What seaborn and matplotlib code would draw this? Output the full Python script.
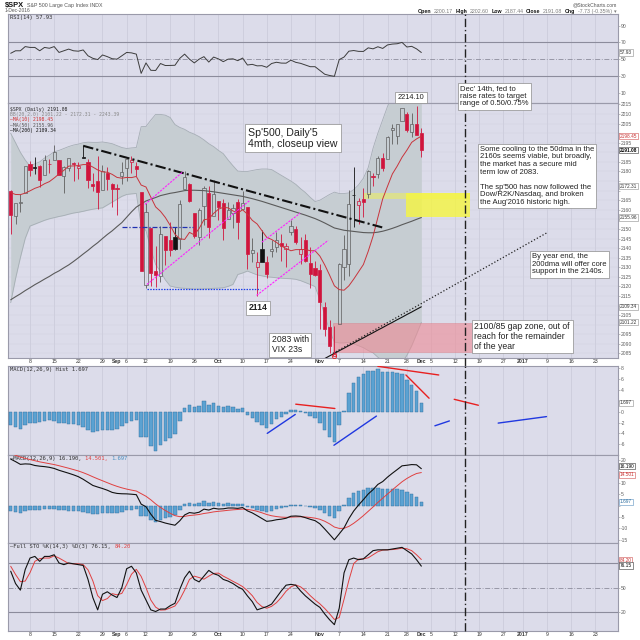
import numpy as np
import matplotlib
matplotlib.use("Agg")
import matplotlib.pyplot as plt
import matplotlib.transforms as mtrans
from matplotlib.patches import Rectangle
import seaborn as sns

sns.set_style("white")
plt.rcParams['font.family'] = ['Liberation Sans', 'DejaVu Sans']
plt.rcParams['axes.unicode_minus'] = False
MONO = ['DejaVu Sans Mono', 'DejaVu Sans']

# ---------------------------------------------------------------- data
# daily candles, 2 Aug 2016 .. 1 Dec 2016 (trading-day index 0..85)
opens = [2169.94, 2156.81, 2163.51, 2168.79, 2183.76, 2182.24, 2182.81, 2177.97, 2183.74, 2186.08,
         2186.24, 2177.84, 2181.90, 2184.24, 2181.58, 2187.81, 2185.09, 2173.29, 2175.10, 2170.19,
         2179.45, 2173.56, 2171.33, 2177.49, 2181.61, 2185.17, 2182.76, 2169.08, 2120.86, 2150.47,
         2127.86, 2125.36, 2146.48, 2143.99, 2145.94, 2144.58, 2170.94, 2173.29, 2158.54, 2146.04,
         2161.85, 2168.90, 2156.51, 2164.33, 2163.37, 2155.15, 2158.22, 2164.19, 2160.39, 2161.35,
         2137.67, 2130.26, 2139.68, 2132.95, 2138.31, 2140.81, 2142.51, 2139.43, 2148.50, 2149.72,
         2136.97, 2144.06, 2132.23, 2129.78, 2128.68, 2109.43, 2098.80, 2083.79, 2100.59, 2129.92,
         2131.56, 2167.49, 2162.71, 2165.64, 2168.29, 2177.53, 2178.61, 2186.85, 2186.43, 2201.56,
         2198.55, 2206.27, 2210.21, 2200.76, 2204.97, 2200.17]
highs = [2170.20, 2163.79, 2168.19, 2182.87, 2185.44, 2187.66, 2183.41, 2188.45, 2186.28, 2193.81,
         2186.24, 2183.08, 2187.03, 2185.00, 2185.15, 2193.42, 2186.66, 2179.00, 2187.94, 2183.48,
         2182.27, 2173.79, 2173.56, 2184.87, 2186.57, 2187.87, 2184.94, 2169.08, 2163.30, 2150.47,
         2141.33, 2151.31, 2146.48, 2153.61, 2150.80, 2165.11, 2179.99, 2173.75, 2158.54, 2161.13,
         2172.40, 2172.67, 2175.30, 2164.41, 2165.46, 2163.95, 2162.93, 2165.86, 2169.60, 2161.56,
         2145.36, 2138.19, 2149.19, 2135.61, 2144.38, 2148.44, 2147.18, 2142.63, 2154.79, 2151.44,
         2145.73, 2147.13, 2140.72, 2133.25, 2131.45, 2111.76, 2102.56, 2099.07, 2132.00, 2146.87,
         2170.10, 2182.30, 2165.92, 2171.36, 2180.84, 2179.22, 2188.06, 2189.89, 2198.70, 2204.80,
         2204.72, 2213.35, 2211.14, 2210.46, 2214.10, 2202.60]
lows = [2147.58, 2152.70, 2159.07, 2168.79, 2177.85, 2178.61, 2172.00, 2177.97, 2179.42, 2186.08,
        2178.14, 2168.50, 2180.46, 2175.13, 2175.96, 2186.80, 2171.25, 2169.74, 2160.39, 2170.19,
        2170.41, 2161.35, 2157.09, 2173.59, 2175.10, 2179.07, 2177.49, 2127.81, 2119.12, 2120.27,
        2119.90, 2122.36, 2131.20, 2135.91, 2139.17, 2139.57, 2170.94, 2163.97, 2145.04, 2141.55,
        2151.79, 2145.20, 2156.51, 2154.77, 2144.01, 2155.15, 2150.28, 2144.85, 2160.39, 2128.84,
        2132.77, 2114.72, 2132.98, 2124.43, 2135.49, 2138.15, 2133.44, 2130.09, 2146.91, 2141.93,
        2131.59, 2132.52, 2119.36, 2125.53, 2097.85, 2094.00, 2085.23, 2083.79, 2100.59, 2123.56,
        2125.35, 2151.17, 2152.49, 2156.08, 2166.38, 2172.20, 2176.65, 2180.38, 2186.43, 2194.51,
        2194.51, 2206.27, 2200.36, 2198.15, 2198.81, 2187.44]
closes = [2157.03, 2163.79, 2164.25, 2182.87, 2180.89, 2181.74, 2175.49, 2185.79, 2184.05, 2190.15,
          2178.15, 2182.22, 2187.02, 2183.87, 2182.64, 2186.90, 2175.44, 2172.47, 2169.04, 2180.38,
          2176.12, 2170.95, 2170.86, 2179.98, 2186.48, 2186.16, 2181.30, 2127.81, 2159.04, 2127.02,
          2125.77, 2147.26, 2139.16, 2139.12, 2139.76, 2163.12, 2177.18, 2164.69, 2146.10, 2159.93,
          2171.37, 2151.13, 2168.27, 2161.20, 2150.49, 2159.73, 2160.77, 2153.74, 2163.66, 2136.73,
          2139.18, 2132.55, 2132.98, 2126.50, 2139.60, 2144.29, 2141.34, 2141.16, 2151.33, 2143.16,
          2139.43, 2133.04, 2126.41, 2126.15, 2111.72, 2097.94, 2088.66, 2085.18, 2131.52, 2139.56,
          2163.26, 2167.48, 2164.45, 2164.20, 2180.39, 2176.94, 2187.12, 2181.90, 2198.18, 2202.94,
          2204.72, 2213.35, 2201.72, 2204.66, 2198.81, 2191.08]
prior_close = 2170.84

ma10 = [2168.9, 2168.0, 2167.9, 2168.7, 2169.9, 2171.2, 2172.1, 2173.6, 2174.7, 2176.6,
        2178.7, 2180.6, 2182.8, 2182.9, 2183.1, 2183.6, 2183.6, 2182.3, 2180.8, 2179.8,
        2179.6, 2178.5, 2176.9, 2176.5, 2176.9, 2176.8, 2177.4, 2172.9, 2171.9, 2166.6,
        2161.5, 2159.2, 2156.0, 2151.9, 2147.2, 2144.9, 2144.5, 2148.2, 2146.9, 2150.2,
        2154.8, 2155.2, 2158.1, 2160.3, 2161.3, 2161.0, 2159.4, 2158.3, 2160.0, 2157.7,
        2154.5, 2152.6, 2149.1, 2145.6, 2144.5, 2143.0, 2141.1, 2139.8, 2138.6, 2139.2,
        2139.2, 2139.3, 2138.6, 2138.6, 2135.8, 2131.2, 2125.9, 2120.3, 2118.3, 2118.0,
        2120.3, 2123.8, 2127.6, 2131.4, 2138.3, 2146.2, 2156.0, 2165.7, 2172.3, 2178.7,
        2182.8, 2187.4, 2191.1, 2195.2, 2197.0, 2198.45]
ma50 = [2113.0, 2114.6, 2116.1, 2117.8, 2119.3, 2120.9, 2122.3, 2123.8, 2125.2, 2126.8,
        2128.1, 2129.7, 2131.2, 2133.0, 2134.9, 2136.9, 2138.8, 2140.9, 2142.8, 2145.0,
        2147.1, 2149.0, 2151.2, 2153.3, 2156.1, 2158.9, 2161.4, 2163.0, 2164.6, 2165.5,
        2166.4, 2167.4, 2168.0, 2168.6, 2169.0, 2169.5, 2170.0, 2170.2, 2170.2, 2170.1,
        2170.0, 2169.7, 2169.4, 2169.0, 2168.6, 2168.2, 2167.8, 2167.4, 2167.0, 2166.4,
        2165.8, 2165.1, 2164.4, 2163.6, 2162.8, 2162.0, 2161.2, 2160.4, 2159.6, 2158.8,
        2158.0, 2157.2, 2156.3, 2155.4, 2154.3, 2153.1, 2151.8, 2150.5, 2149.9, 2149.3,
        2149.0, 2148.7, 2148.4, 2148.1, 2148.0, 2148.0, 2148.3, 2148.8, 2149.5, 2150.3,
        2151.2, 2152.2, 2153.1, 2154.0, 2155.0, 2155.96]
ma200_first_day = 65
ma200 = [2082.3, 2083.7, 2085.0, 2086.4, 2087.7, 2089.1, 2090.4, 2091.8, 2093.1, 2094.5, 2095.8,
         2097.2, 2098.5, 2099.9, 2101.2, 2102.6, 2103.9, 2105.3, 2106.6, 2108.0, 2109.34]
bb_upper = [2199.9, 2195.0, 2190.0, 2186.0, 2182.7, 2184.0, 2185.0, 2187.0, 2188.5, 2190.3,
            2191.0, 2192.0, 2193.0, 2193.8, 2194.3, 2195.0, 2195.3, 2195.2, 2195.2, 2195.4,
            2195.0, 2194.5, 2193.5, 2192.5, 2192.0, 2192.3, 2192.5, 2203.4, 2203.5, 2206.8,
            2209.8, 2209.8, 2209.4, 2208.2, 2204.5, 2203.0, 2202.0, 2200.5, 2199.5, 2198.2,
            2196.5, 2194.5, 2193.0, 2191.0, 2189.3, 2186.0, 2183.0, 2180.2, 2180.0, 2180.0,
            2180.5, 2181.0, 2181.3, 2181.3, 2181.0, 2179.5, 2178.0, 2176.5, 2175.0, 2173.3,
            2171.0, 2169.0, 2166.5, 2164.3, 2165.0, 2166.5, 2168.0, 2169.2, 2168.5, 2168.5,
            2168.8, 2170.5, 2173.0, 2176.5, 2182.0, 2192.1, 2200.0, 2207.0, 2214.0, 2220.0,
            2225.0, 2232.0, 2236.0, 2240.0, 2242.0, 2243.39]
bb_lower = [2111.5, 2124.0, 2135.0, 2145.0, 2151.5, 2152.5, 2153.5, 2154.5, 2155.3, 2155.9,
            2156.5, 2157.0, 2157.7, 2158.3, 2158.7, 2159.2, 2159.8, 2160.3, 2160.7, 2161.0,
            2162.5, 2164.0, 2165.5, 2167.0, 2168.0, 2168.3, 2168.5, 2151.8, 2149.1, 2139.6,
            2131.4, 2127.8, 2123.4, 2120.2, 2119.6, 2119.2, 2119.0, 2118.8, 2118.6, 2118.6,
            2118.7, 2118.8, 2119.0, 2119.1, 2119.3, 2120.0, 2121.0, 2126.2, 2127.0, 2128.0,
            2127.0, 2126.0, 2125.5, 2125.0, 2124.8, 2124.5, 2124.3, 2124.1, 2124.0, 2123.7,
            2123.0, 2122.0, 2121.0, 2119.9, 2113.0, 2105.0, 2097.0, 2090.9, 2090.5, 2090.5,
            2090.8, 2090.0, 2089.0, 2088.0, 2086.5, 2085.3, 2083.0, 2081.0, 2079.5, 2078.5,
            2078.2, 2080.0, 2084.0, 2089.0, 2095.0, 2101.22]
rsi14 = [57, 60, 60, 65, 64, 64, 60, 64, 63, 65,
         58, 60, 62, 60, 59.5, 61, 54, 51, 49.5, 55,
         53, 50.5, 50, 54, 58, 57.5, 56, 33, 45.5, 36.7,
         36.5, 44.8, 42.4, 42.5, 42.7, 51, 56, 50, 45.5, 50,
         53, 46.5, 52.5, 50.3, 47, 50, 50.4, 48.2, 51.3, 43,
         43.8, 42, 42.2, 40.3, 44.8, 46.3, 45.3, 45.2, 48.8, 46.2,
         45, 43, 41, 41, 36.5, 32, 30.5, 29.5, 49.5, 52.5,
         59.5, 60.3, 59.3, 59.2, 63.5, 62.3, 64.8, 62.8, 67, 68,
         68.4, 70, 64.5, 65.3, 62.3, 57.93]
macd_line = [20.4, 19.3, 18.1, 18.3, 18.2, 17.6, 17.3, 17.1, 16.8, 16.3,
             15.5, 14.85, 14.2, 13.5, 12.7, 11.55, 10.2, 8.85, 8.15, 7.5,
             6.75, 5.8, 5.35, 5.2, 5.15, 5.0, 4.8, 0.65, -0.5, -3.75,
             -6.45, -7.0, -7.65, -8.15, -8.6, -6.65, -4.1, -3.05, -3.35, -2.9,
             -1.55, -1.95, -1.15, -1.5, -1.4, -1.05, -1.05, -1.2, -0.85, -2.3,
             -3.2, -4.4, -5.65, -6.9, -6.65, -6.2, -5.95, -5.55, -4.65, -4.55,
             -4.7, -5.3, -6.0, -6.6, -8.0, -10.25, -12.6, -15.0, -12.4, -9.75,
             -5.7, -2.35, 0.25, 2.6, 5.1, 7.0, 9.3, 10.55, 12.5, 14.2,
             15.8, 17.45, 17.7, 18.0, 17.9, 16.19]
macd_signal = [22.8, 22.1, 21.3, 20.7, 20.2, 19.7, 19.2, 18.8, 18.4, 18.0,
               17.5, 16.95, 16.4, 15.8, 15.2, 14.45, 13.6, 12.65, 11.75, 10.9,
               10.05, 9.2, 8.45, 7.8, 7.25, 6.8, 6.4, 5.25, 4.1, 2.55,
               0.75, -0.8, -2.15, -3.35, -4.4, -4.85, -4.7, -4.35, -4.15, -3.9,
               -3.45, -3.15, -2.75, -2.5, -2.3, -2.05, -1.85, -1.7, -1.55, -1.7,
               -2.0, -2.5, -3.15, -3.9, -4.45, -4.8, -5.05, -5.15, -5.05, -4.95,
               -4.9, -5.0, -5.2, -5.5, -6.0, -6.85, -8.0, -9.4, -10.0, -9.95,
               -9.1, -7.75, -6.15, -4.4, -2.5, -0.6, 1.4, 3.25, 5.1, 6.9,
               8.7, 10.45, 11.9, 13.1, 14.08, 14.501]
macd_hist = [-2.4, -2.8, -3.2, -2.4, -2.0, -2.1, -1.9, -1.7, -1.6, -1.7,
             -2.0, -2.1, -2.2, -2.3, -2.5, -2.9, -3.4, -3.8, -3.6, -3.4,
             -3.3, -3.4, -3.1, -2.6, -2.1, -1.8, -1.6, -4.6, -4.6, -6.3,
             -7.2, -6.2, -5.5, -4.8, -4.2, -1.8, 0.6, 1.3, 0.8, 1.0,
             1.9, 1.2, 1.6, 1.0, 0.9, 1.0, 0.8, 0.5, 0.7, -0.6,
             -1.2, -1.9, -2.5, -3.0, -2.2, -1.4, -0.9, -0.4, 0.4, 0.4,
             0.2, -0.3, -0.8, -1.1, -2.0, -3.4, -4.6, -5.6, -2.4, 0.2,
             3.4, 5.4, 6.4, 7.0, 7.6, 7.6, 7.9, 7.3, 7.4, 7.3,
             7.1, 7.0, 5.8, 4.9, 3.8, 1.697]
sto_k = [70, 55, 47, 72, 86, 88, 82, 88, 88, 90,
         80, 78, 80, 79, 78, 77, 60, 38, 23, 42,
         45, 41, 38, 50, 73, 76, 68, 47, 35, 23,
         21, 24, 24, 28, 31, 48, 62, 70, 60, 57,
         64, 71, 67, 65, 60, 58, 55, 51, 48, 40,
         33, 23, 25, 27, 30, 38, 46, 53, 54, 53,
         46, 40, 35, 30, 26, 18, 11, 5, 25, 68,
         84, 86, 84, 85, 90, 95, 96, 96, 96, 97,
         98, 99, 95, 91, 84, 76.15]
sto_d = [76, 66, 57.3, 58, 68.3, 82, 85.3, 86, 86, 88.7,
         86, 82.7, 79.3, 79, 79, 78, 71.7, 58.3, 40.3, 34.3,
         36.7, 42.7, 41.3, 43, 53.7, 66.3, 72.3, 63.7, 50, 35,
         26.3, 22.7, 23, 25.3, 27.7, 35.7, 47, 60, 64, 62.3,
         60.3, 64, 67.3, 67.7, 64, 61, 57.7, 54.7, 51.3, 46.3,
         40.3, 32, 27, 25, 27.3, 31.7, 38, 45.7, 51, 53.3,
         51, 46.3, 40.3, 35, 30.3, 24.7, 18.3, 11.3, 13.7, 36,
         59, 79.3, 84.7, 85, 86.3, 90, 93.7, 95.7, 96, 96.3,
         97, 98, 97.3, 95, 90, 84.2]

# axis ticks (trading-day index, label)
grid_days = [4, 9, 14, 19, 24, 28, 33, 38, 43, 48, 53, 58, 63, 68, 73, 78, 82, 87, 92, 97, 102, 106, 111, 116, 121]
date_ticks = [4, 9, 14, 19, 22, 24, 28, 33, 38, 43, 48, 53, 58, 64, 68, 73, 78, 82, 85, 87, 92, 97, 102, 106, 111, 116, 121]
date_labels = ["8", "15", "22", "29", "Sep", "6", "12", "19", "26", "Oct", "10", "17", "24", "Nov", "7",
               "14", "21", "28", "Dec", "5", "12", "19", "27", "2017", "9", "16", "23"]
month_labels = ["Sep", "Oct", "Nov", "Dec", "2017"]
price_ticks = [2085, 2090, 2095, 2100, 2105, 2110, 2115, 2120, 2125, 2130, 2135, 2140, 2145, 2150,
               2155, 2160, 2165, 2170, 2175, 2180, 2185, 2190, 2195, 2200, 2205, 2210, 2215]
rsi_ticks = [10, 30, 50, 70, 90]
hist_ticks = [-6, -4, -2, 0, 2, 4, 6, 8]
macd_ticks = [-15, -10, -5, 0, 5, 10, 15, 20]
sto_ticks = [20, 50, 80]
fed_day = 94

# right-hand last-value tags
rsi_tags = [(57.93, "57.93", 'grey')]
main_tags = [(2198.45, "2198.45", 'red'), (2191.08, "2191.08", 'black'), (2172.31, "2172.31", 'grey'),
             (2155.96, "2155.96", 'grey'), (2109.34, "2109.34", 'grey'), (2101.22, "2101.22", 'grey')]
hist_tags = [(1.697, "1.697", 'grey')]
macd_tags = [(16.19, "16.190", 'black'), (14.501, "14.501", 'red'), (1.697, "1.697", 'blue')]
sto_tags = [(84.2, "84.20", 'red'), (76.15, "76.15", 'black')]

# hand-drawn annotations (trading-day index, value)
trend_black = ([15, 76.9], [2193.4, 2150.8])
magenta_1a = ([27.8, 35.7], [2162.8, 2180.0])
magenta_1b = ([28.2, 49.5], [2121.0, 2164.9])
magenta_2a = ([52.0, 59.9], [2143.1, 2158.2])
magenta_2b = ([50.9, 65.7], [2115.3, 2144.0])
blue_level = ([28.2, 51.6], [2118.8, 2118.8])
blue_level2 = ([23.0, 37.8], [2150.8, 2150.8])
ma200_projection = ([66.7, 111.0], [2085.0, 2148.0])
yellow_strip = (73.0, 95.0, 2165.4, 2168.6)
yellow_box = (81.8, 95.0, 2156.0, 2168.6)
gap_zone = (66.7, 95.5, 2085.5, 2101.0)
hist_red_lines = [([59.0, 67.1], [1.4, 0.6]), ([76.0, 88.6], [8.4, 6.8]),
                  ([81.8, 86.6], [6.8, 2.5]), ([91.8, 96.8], [2.3, 1.2])]
hist_blue_lines = [([53.1, 58.9], [-4.0, -0.5]), ([66.9, 75.7], [-6.2, -0.8]),
                   ([87.8, 90.8], [-2.6, -1.7]), ([100.9, 110.9], [-2.1, -0.9])]

# ---------------------------------------------------------------- layout
W = H = 640
fig = plt.figure(figsize=(6.4, 6.4), dpi=100)
fig.patch.set_facecolor('white')


def panel(top, bottom):
    return fig.add_axes([8 / W, 1 - bottom / H, 609.5 / W, (bottom - top) / H])


ax_rsi = panel(14, 103.3)
ax_main = panel(103.3, 358)
ax_hist = panel(366, 455)
ax_macd = panel(455, 543)
ax_sto = panel(543, 631)
axes = [ax_rsi, ax_main, ax_hist, ax_macd, ax_sto]

BG = '#DCDCEA'
XLIM = (-0.56, 125.6)
x = np.arange(len(closes))
for ax in axes:
    ax.set_facecolor(BG)
    ax.set_xlim(*XLIM)
    for s in ax.spines.values():
        s.set_color('#9A9AAA')
        s.set_linewidth(0.8)
    ax.yaxis.tick_right()
    ax.tick_params(axis='y', labelsize=3.6, labelcolor='#606060', color='#909090',
                   length=1.5, width=0.4, pad=1)
    ax.tick_params(axis='x', length=0)
    for g in grid_days:
        ax.axvline(g, color='#C8C8D8', lw=0.5, zorder=0)
    ax.set_xticks([])

# Fed-day dash-dot line, running through every panel and the gaps between them
FED_LS = (0, (6, 2, 1, 2))
fed_extent = {ax_rsi: (0.0, 1 + 3 / 89.3), ax_main: (-8 / 254.7, 1.0), ax_hist: (0.0, 1.0),
              ax_macd: (0.0, 1.0), ax_sto: (0.0, 1.0)}
for ax, (y0, y1) in fed_extent.items():
    ax.axvline(fed_day, ymin=y0, ymax=y1, color='#222222', lw=1.0, ls=FED_LS, zorder=10, clip_on=False)

TAG_COLORS = {'grey': ('#333333', '#8C8C8C'), 'red': ('#C83030', '#D05050'),
              'black': ('#000000', '#333333'), 'blue': ('#3070A0', '#5B90C0')}


def y_axis(ax, lo, hi, ticks, tags, nudges=None):
    """Right-hand scale; tick labels hidden where a value tag covers them."""
    ax.set_ylim(lo, hi)
    px_per_unit = ax.get_position().height * H / (hi - lo)
    labels = []
    for t in ticks:
        covered = any(abs(t - v) * px_per_unit < 5.6 for v, _, _ in tags)
        labels.append('' if covered else str(t))
    ax.set_yticks(ticks)
    ax.set_yticklabels(labels)
    tr = mtrans.blended_transform_factory(ax.transAxes, ax.transData)
    for k, (v, s, c) in enumerate(tags):
        tc, ec = TAG_COLORS[c]
        dy = 0.0 if nudges is None else nudges[k] / px_per_unit
        ax.text(1.004, v + dy, s, transform=tr, fontsize=3.4, color=tc, ha='left', va='center',
                fontweight='bold' if c == 'black' and ax is ax_main else 'normal',
                clip_on=False, zorder=30,
                bbox=dict(boxstyle='square,pad=0.12', facecolor='white', edgecolor=ec, lw=0.4))


# ---------------- RSI
y_axis(ax_rsi, -2.7, 103.9, rsi_ticks, rsi_tags)
for lvl in (30, 70):
    ax_rsi.axhline(lvl, color='#8C8C9C', lw=0.8, zorder=1)
ax_rsi.axhline(50, color='#8C8C9C', lw=0.6, ls=(0, (6, 2, 1, 2)), zorder=1)
sns.lineplot(x=x, y=rsi14, ax=ax_rsi, color='#3C3C3C', lw=0.7, zorder=3, legend=False)
ax_rsi.text(0.004, 0.985, "RSI(14) 57.93", transform=ax_rsi.transAxes, fontsize=4.0,
            family=MONO, color='#333333', va='top', ha='left')

# ---------------- main price panel
y_axis(ax_main, 2082.6, 2215.6, price_ticks, main_tags)
for t in price_ticks:
    ax_main.axhline(t, color='#D2D2E0', lw=0.35, zorder=0)
ax_main.fill_between(x, bb_lower, bb_upper, color='#C6CDD2', lw=0, zorder=1)
sns.lineplot(x=x, y=bb_upper, ax=ax_main, color='#A6AEB5', lw=0.6, zorder=2, legend=False)
sns.lineplot(x=x, y=bb_lower, ax=ax_main, color='#A6AEB5', lw=0.6, zorder=2, legend=False)
sns.lineplot(x=x, y=ma50, ax=ax_main, color='#5A5A5A', lw=0.8, zorder=3, legend=False)
sns.lineplot(x=x[ma200_first_day:], y=ma200, ax=ax_main, color='#111111', lw=0.8, zorder=3, legend=False)

for (x0, x1, y0, y1), a in ((yellow_strip, 0.45), (yellow_box, 0.8)):
    ax_main.add_patch(Rectangle((x0, y0), x1 - x0, y1 - y0, facecolor='#F6F640', alpha=a,
                                edgecolor='none', zorder=2.5))
gx0, gx1, gy0, gy1 = gap_zone
ax_main.add_patch(Rectangle((gx0, gy0), gx1 - gx0, gy1 - gy0, facecolor='#EE8A94', alpha=0.6,
                            edgecolor='#D8707A', lw=0.4, zorder=2.5))

prev = [prior_close] + closes[:-1]
for i in range(len(closes)):
    o, h, l, c, p = opens[i], highs[i], lows[i], closes[i], prev[i]
    up = c >= p
    hollow = c > o
    if up:
        col = '#5E5E5E' if hollow else '#111111'
    else:
        col = '#D0143C'
    top, bot = max(o, c), min(o, c)
    ax_main.vlines(i, top, h, color=col, lw=0.6, zorder=5)
    ax_main.vlines(i, l, bot, color=col, lw=0.6, zorder=5)
    ax_main.add_patch(Rectangle((i - 0.33, bot), 0.66, max(top - bot, 0.3),
                                facecolor='none' if hollow else col, edgecolor=col,
                                lw=0.5, zorder=6))

sns.lineplot(x=x, y=ma10, ax=ax_main, color='#C8343C', lw=0.7, zorder=7, legend=False)

ax_main.plot(*trend_black, color='#111111', lw=1.5, ls=(0, (5, 1.5, 1, 1.5)), zorder=8)
for seg in (magenta_1a, magenta_1b, magenta_2a, magenta_2b):
    ax_main.plot(*seg, color='#FF22FF', lw=0.8, ls=(0, (2, 1)), zorder=8)
ax_main.plot(*blue_level, color='#2040E8', lw=0.9, ls=(0, (1.2, 1)), zorder=8)
ax_main.plot(*blue_level2, color='#2030B0', lw=0.9, ls=(0, (4, 1.5, 1, 1.5)), zorder=8)
ax_main.plot(*ma200_projection, color='#222222', lw=0.9, ls=(0, (1, 1.6)), zorder=8)
ax_main.plot([x[67]], [lows[67]], marker='o', ms=3, mfc='none', mec='#E02020', mew=0.6, zorder=9)

leg = [("$SPX (Daily) 2191.08", '#222222'),
       ("BB(20,2.0) 2101.22 - 2172.31 - 2243.39", '#8A8A8A'),
       ("\u2014MA(10) 2198.45", '#D03030'),
       ("\u2014MA(50) 2155.96", '#555555'),
       ("\u2014MA(200) 2109.34", '#111111')]
for k, (s, c) in enumerate(leg):
    ax_main.text(0.004, 1 - (3.2 + 5.4 * k) / 254.7, s, transform=ax_main.transAxes, fontsize=3.4,
                 family=MONO, color=c, va='top', ha='left', parse_math=False, zorder=12)

box_kw = dict(boxstyle='square,pad=0.3', facecolor='white', edgecolor='#8C8C8C', lw=0.5)


def note(ax, xi, yv, s, size, bold=False):
    ax.text(xi, yv, s, fontsize=size, color='#222222', ha='left', va='top', linespacing=1.12,
            fontweight='bold' if bold else 'normal', bbox=box_kw, zorder=20, clip_on=False)


note(ax_main, 49.2, 2202.9, "Sp'500, Daily'5\n4mth, closeup view", 7.6)
note(ax_main, 80.1, 2220.6, "2214.10", 5.3)
note(ax_main, 93.1, 2225.0, "Dec' 14th, fed to\nraise rates to target\nrange of 0.50/0.75%", 5.5)
note(ax_main, 97.1, 2193.4,
     "Some cooling to the 50dma in the\n2160s seems viable, but broadly,\nthe market has a secure mid\n"
     "term low of 2083.\n\nThe sp'500 has now followed the\nDow/R2K/Nasdaq, and broken\n"
     "the Aug'2016 historic high.", 5.5)
note(ax_main, 108.0, 2137.3, "By year end, the\n200dma will offer core\nsupport in the 2140s.", 5.5)
note(ax_main, 96.0, 2101.3, "2100/85 gap zone, out of\nreach for the remainder\nof the year", 6.2)
note(ax_main, 49.2, 2111.2, "2114", 6.2, bold=True)
note(ax_main, 54.0, 2094.5, "2083 with\nVIX 23s", 6.2)

# ---------------- MACD histogram panel
y_axis(ax_hist, -8.0, 8.46, hist_ticks, hist_tags)
ax_hist.bar(x, macd_hist, width=0.72, color='#5BA2D2', edgecolor='#2E6C9C', lw=0.3, zorder=3)
for xs, ys in hist_red_lines:
    ax_hist.plot(xs, ys, color='#E82020', lw=1.0, zorder=5)
for xs, ys in hist_blue_lines:
    ax_hist.plot(xs, ys, color='#2038E0', lw=1.0, zorder=5)
ax_hist.text(0.004, 0.985, "MACD(12,26,9) Hist 1.697", transform=ax_hist.transAxes, fontsize=4.0,
             family=MONO, color='#333333', va='top', ha='left')

# ---------------- MACD panel
y_axis(ax_macd, -16.4, 22.2, macd_ticks, macd_tags, nudges=[2.3, -2.3, 0.0])
ax_macd.bar(x, macd_hist, width=0.72, color='#5BA2D2', edgecolor='#2E6C9C', lw=0.3, zorder=3)
sns.lineplot(x=x, y=macd_signal, ax=ax_macd, color='#E04040', lw=0.7, zorder=4, legend=False)
sns.lineplot(x=x, y=macd_line, ax=ax_macd, color='#111111', lw=0.8, zorder=5, legend=False)
m1 = ax_macd.text(0.004, 0.985, "\u2014MACD(12,26,9) 16.190, ", transform=ax_macd.transAxes,
                  fontsize=4.0, family=MONO, color='#333333', va='top', ha='left')
m2 = ax_macd.annotate("14.501, ", xycoords=m1, xy=(1, 0), va='bottom', ha='left', fontsize=4.0,
                      family=MONO, color='#E04040')
ax_macd.annotate("1.697", xycoords=m2, xy=(1, 0), va='bottom', ha='left', fontsize=4.0,
                 family=MONO, color='#4A90C0')

# ---------------- Full STO panel
y_axis(ax_sto, -2.7, 104.3, sto_ticks, sto_tags, nudges=[-0.6, 0.6])
for lvl in (20, 80):
    ax_sto.axhline(lvl, color='#8C8C9C', lw=0.8, zorder=1)
ax_sto.axhline(50, color='#8C8C9C', lw=0.6, ls=(0, (6, 2, 1, 2)), zorder=1)
sns.lineplot(x=x, y=sto_d, ax=ax_sto, color='#E04040', lw=0.7, zorder=3, legend=False)
sns.lineplot(x=x, y=sto_k, ax=ax_sto, color='#111111', lw=0.8, zorder=4, legend=False)
s1 = ax_sto.text(0.004, 0.985, "\u2014Full STO %K(14,3) %D(3) 76.15, ", transform=ax_sto.transAxes,
                 fontsize=4.0, family=MONO, color='#333333', va='top', ha='left')
ax_sto.annotate("84.20", xycoords=s1, xy=(1, 0), va='bottom', ha='left', fontsize=4.0,
                family=MONO, color='#E04040')

# ---------------- date labels
for ax in (ax_main, ax_sto):
    ax.set_xticks(date_ticks)
    ax.set_xticklabels(date_labels)
    ax.tick_params(axis='x', length=0, pad=1.0, labelsize=3.7, labelcolor='#333333')
    for lab in ax.get_xticklabels():
        if lab.get_text() in month_labels:
            lab.set_fontweight('bold')
ax_main.set_xticks(list(range(0, 126)), minor=True)
ax_main.tick_params(axis='x', which='minor', length=1.2, width=0.4, color='#777777', direction='in')

# ---------------- header
h1 = fig.text(5 / W, 1 - 5 / H, "$SPX", fontsize=5.4, fontweight='bold', color='#111111',
              va='center', ha='left', parse_math=False)
ax_rsi.annotate("S&P 500 Large Cap Index INDX", xy=(1, 0.5), xycoords=h1, xytext=(2, 0),
                textcoords='offset points', va='center', ha='left', fontsize=3.8, color='#555555',
                annotation_clip=False)
fig.text(5 / W, 1 - 11 / H, "1-Dec-2016", fontsize=3.5, color='#555555', va='center', ha='left')
fig.text(617 / W, 1 - 4.5 / H, "@StockCharts.com", fontsize=3.7, color='#555555', va='center', ha='right')

hdr = [("Open", True), ("2200.17", False), ("High", True), ("2202.60", False), ("Low", True),
       ("2187.44", False), ("Close", True), ("2191.08", False), ("Chg", True), ("-7.73 (-0.35%)", False),
       ("\u25be", False)]
prev_t = None
for s, b in reversed(hdr):
    kw = dict(fontsize=3.8, fontweight='bold' if b else 'normal',
              color='#111111' if b else '#7A7A7A', va='center', ha='right')
    if prev_t is None:
        prev_t = fig.text(617 / W, 1 - 11.5 / H, s, **kw)
    else:
        prev_t = ax_rsi.annotate(s, xy=(0, 0.5), xycoords=prev_t, xytext=(-1.8, 0),
                                 textcoords='offset points', annotation_clip=False, **kw)

fig.savefig("out.png", dpi=100)
